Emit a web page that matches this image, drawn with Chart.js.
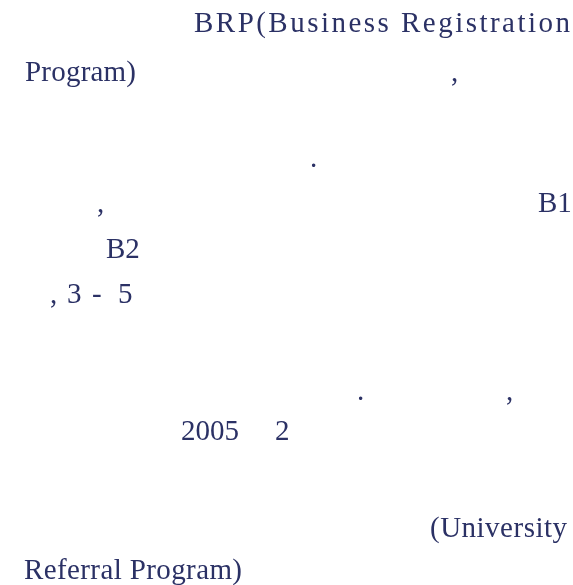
<!DOCTYPE html>
<html>
<head>
<meta charset="utf-8">
<script src="https://cdn.jsdelivr.net/npm/chart.js@4"></script>
<style>
  html, body { margin: 0; padding: 0; background: #ffffff; }
  #wrap { width: 573px; height: 585px; }
</style>
</head>
<body>
<div id="wrap"><canvas id="c" width="573" height="585"></canvas></div>
<script>
// Text fragments that survive in the reference (the Korean text itself is not rendered there)
const fragments = ["BRP(Business Registration", "Program)", ",", ".", ",", "B1", "B2", ",", "3", "-", "5", ".", ",", "2005", "2", "(University", "Referral Program)"];
// Start column of each fragment (page units on the x scale)
const fragmentStart = [194, 25, 451, 310, 97, 538, 106, 50, 67, 92, 118, 357, 506, 181, 275, 430, 24];
// Justified end column (null = natural width)
const fragmentEnd = [570, 136, null, null, null, null, null, null, null, null, null, null, null, null, null, 567, 242];
// Baseline row of each fragment (page units on the y scale)
const fragmentBaseline = [32, 81, 81, 167, 212, 212, 258, 303, 303, 303, 303, 400, 400, 440, 440, 537, 579];

const TEXT_COLOR = '#2b3165';
const FONT = '29px "Liberation Serif", "DejaVu Serif", serif';

const textPlugin = {
  id: 'textFragments',
  afterDatasetsDraw(chart) {
    const ctx = chart.ctx;
    const meta = chart.getDatasetMeta(0);
    const xs = chart.scales.x;
    ctx.save();
    ctx.font = FONT;
    ctx.fillStyle = TEXT_COLOR;
    ctx.textBaseline = 'alphabetic';
    ctx.textAlign = 'left';
    meta.data.forEach((pt, i) => {
      const txt = fragments[i];
      const x0 = pt.x, y0 = pt.y;
      const chars = Array.from(txt);
      const widths = chars.map(ch => ctx.measureText(ch).width);
      const natural = widths.reduce((a, b) => a + b, 0);
      let extra = 0;
      if (fragmentEnd[i] !== null && chars.length > 1) {
        const target = xs.getPixelForValue(fragmentEnd[i]) - x0;
        extra = (target - natural) / (chars.length - 1);
      }
      let x = x0;
      chars.forEach((ch, k) => {
        ctx.fillText(ch, x, y0);
        x += widths[k] + extra;
      });
    });
    ctx.restore();
  }
};

new Chart(document.getElementById('c'), {
  type: 'scatter',
  data: {
    datasets: [{
      label: 'text',
      data: fragments.map((t, i) => ({ x: fragmentStart[i], y: fragmentBaseline[i] })),
      pointRadius: 0,
      pointHoverRadius: 0,
      showLine: false
    }]
  },
  options: {
    responsive: false,
    animation: false,
    events: [],
    layout: { padding: 0 },
    plugins: { legend: { display: false }, tooltip: { enabled: false }, title: { display: false } },
    scales: {
      x: { type: 'linear', min: 0, max: 573, display: false },
      y: { type: 'linear', min: 0, max: 585, reverse: true, display: false }
    }
  },
  plugins: [textPlugin]
});
</script>
</body>
</html>
